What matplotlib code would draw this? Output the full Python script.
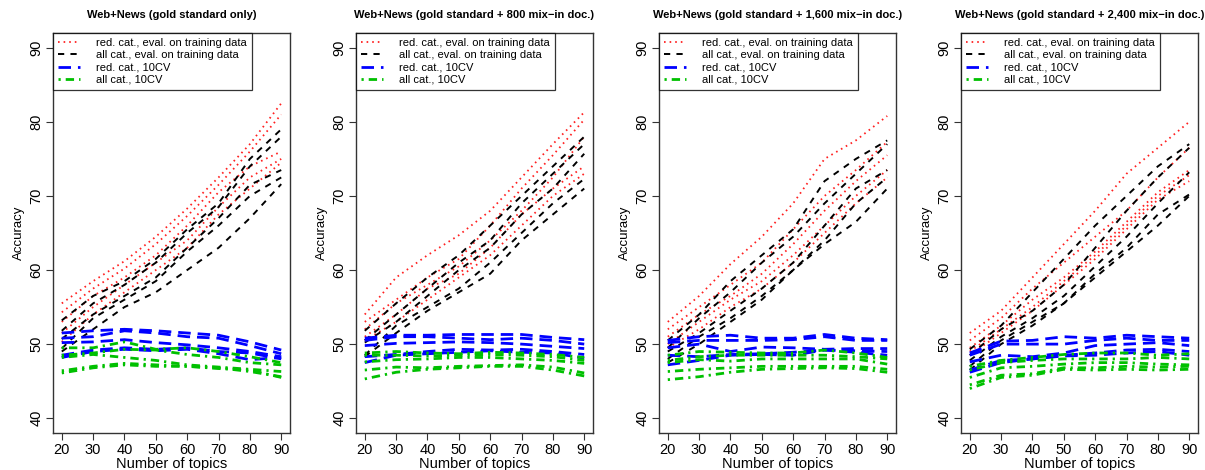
import matplotlib
matplotlib.use("Agg")
import matplotlib.pyplot as plt
from matplotlib.lines import Line2D

plt.rcParams['font.family'] = ['Liberation Sans', 'DejaVu Sans']

topics = [20, 30, 40, 50, 60, 70, 80, 90]

titles = [
    "Web+News (gold standard only)",
    "Web+News (gold standard + 800 mix\u2212in doc.)",
    "Web+News (gold standard + 1,600 mix\u2212in doc.)",
    "Web+News (gold standard + 2,400 mix\u2212in doc.)",
]

series_labels = [
    "red. cat., eval. on training data",
    "all cat., eval. on training data",
    "red. cat., 10CV",
    "all cat., 10CV",
]

# Panel 1: gold standard only
p1_red_train = [
    [55.5, 58.5, 61.2, 64.5, 68.3, 72.5, 77.0, 82.5],
    [54.3, 57.5, 60.2, 63.5, 67.3, 71.5, 76.0, 81.0],
    [53.0, 56.5, 59.0, 62.0, 66.0, 70.5, 74.0, 76.0],
    [51.5, 55.0, 58.0, 61.0, 64.0, 68.5, 72.5, 75.0],
    [50.3, 54.0, 57.0, 60.0, 63.0, 67.5, 71.0, 74.5],
]
p1_all_train = [
    [53.2, 56.5, 58.5, 61.5, 65.5, 69.0, 75.0, 79.0],
    [51.8, 55.5, 58.0, 61.0, 65.0, 68.5, 74.0, 78.0],
    [50.7, 54.0, 56.5, 59.0, 63.0, 67.0, 71.5, 73.5],
    [49.4, 53.5, 56.0, 58.5, 62.5, 66.0, 70.0, 72.5],
    [49.0, 52.0, 55.0, 57.0, 60.0, 63.0, 67.0, 71.6],
]
p1_red_cv = [
    [51.5, 51.8, 52.0, 51.8, 51.5, 51.2, 50.3, 49.2],
    [50.8, 51.0, 51.8, 51.5, 51.0, 50.8, 49.8, 48.7],
    [50.2, 50.3, 50.6, 50.2, 49.9, 49.5, 49.0, 48.3],
    [48.5, 49.2, 49.5, 49.3, 49.5, 49.0, 48.8, 48.0],
    [48.2, 49.0, 49.3, 49.1, 49.3, 48.7, 47.9, 48.2],
]
p1_all_cv = [
    [49.5, 49.5, 50.3, 49.3, 49.5, 49.0, 48.3, 47.5],
    [48.5, 48.8, 49.3, 49.2, 48.6, 48.2, 47.5, 47.2],
    [48.2, 48.6, 48.2, 47.8, 47.2, 46.9, 46.6, 46.3],
    [46.4, 47.0, 47.4, 47.2, 47.0, 46.8, 46.3, 45.6],
    [46.1, 46.8, 47.2, 47.0, 47.0, 46.7, 46.5, 45.5],
]

# Panel 2: + 800 mix-in docs
p2_red_train = [
    [54.0, 59.0, 62.0, 64.7, 68.0, 72.5, 77.0, 81.3],
    [53.0, 56.0, 59.0, 61.5, 66.0, 71.0, 75.5, 80.3],
    [52.0, 55.5, 58.0, 60.5, 64.0, 68.0, 72.5, 78.0],
    [51.0, 54.0, 57.5, 59.5, 63.0, 67.5, 71.0, 74.0],
    [50.5, 53.0, 56.0, 59.0, 62.0, 66.0, 70.0, 73.0],
]
p2_all_train = [
    [51.8, 55.5, 59.0, 62.0, 66.0, 70.0, 74.0, 78.0],
    [50.5, 54.0, 57.5, 61.0, 64.0, 69.0, 73.0, 77.0],
    [50.2, 53.0, 56.5, 60.0, 63.0, 67.5, 71.0, 75.7],
    [48.5, 52.5, 55.0, 57.5, 61.0, 65.0, 69.0, 72.3],
    [48.3, 51.5, 54.5, 57.0, 59.5, 64.0, 67.5, 71.0],
]
p2_red_cv = [
    [50.8, 51.2, 51.2, 51.3, 51.3, 51.3, 50.9, 50.6],
    [50.5, 51.0, 51.0, 50.8, 50.6, 50.8, 50.5, 50.0],
    [49.8, 50.1, 50.2, 50.3, 50.2, 50.0, 49.7, 49.4],
    [48.3, 48.6, 49.0, 49.3, 49.2, 49.3, 49.0, 48.6],
    [47.5, 48.5, 48.7, 48.9, 49.1, 48.9, 48.8, 48.1],
]
p2_all_cv = [
    [48.8, 49.0, 48.8, 48.7, 48.9, 48.8, 48.6, 48.2],
    [48.5, 48.5, 48.4, 48.5, 48.6, 48.5, 48.3, 47.8],
    [47.6, 47.9, 48.0, 48.2, 48.2, 48.0, 47.8, 47.4],
    [46.5, 46.9, 46.8, 47.0, 47.1, 47.2, 46.9, 46.1],
    [45.3, 46.2, 46.6, 46.8, 47.0, 47.0, 46.5, 45.7],
]

# Panel 3: + 1,600 mix-in docs
p3_red_train = [
    [53.0, 56.5, 60.8, 64.5, 69.0, 75.0, 77.5, 80.8],
    [52.0, 55.0, 58.0, 61.0, 65.5, 70.0, 73.5, 77.3],
    [51.0, 54.0, 56.5, 59.5, 63.5, 68.0, 72.0, 75.5],
    [50.0, 53.0, 56.0, 58.5, 62.0, 66.0, 70.0, 73.5],
    [49.5, 52.0, 55.0, 57.5, 61.0, 65.0, 69.0, 72.5],
]
p3_all_train = [
    [50.5, 54.0, 58.5, 62.0, 65.5, 72.0, 75.0, 77.5],
    [49.5, 53.5, 57.0, 61.0, 64.5, 69.0, 73.0, 77.0],
    [49.0, 51.5, 54.5, 57.5, 61.0, 66.0, 71.0, 73.5],
    [48.0, 51.0, 53.5, 56.5, 60.0, 64.0, 69.0, 72.5],
    [47.5, 50.0, 53.0, 56.0, 60.0, 63.5, 66.5, 71.0],
]
p3_red_cv = [
    [50.5, 51.0, 51.2, 50.8, 50.8, 51.3, 50.8, 50.6],
    [50.2, 50.5, 50.5, 50.5, 50.6, 51.0, 50.5, 50.5],
    [49.5, 50.0, 49.0, 49.6, 49.5, 49.3, 49.4, 49.4],
    [48.5, 48.3, 48.6, 48.7, 48.9, 49.2, 49.1, 49.0],
    [47.2, 47.8, 48.5, 48.6, 48.5, 49.2, 48.9, 48.5],
]
p3_all_cv = [
    [48.5, 49.0, 48.9, 48.8, 48.8, 49.2, 48.8, 48.2],
    [47.8, 48.3, 48.5, 48.5, 48.5, 48.5, 48.3, 48.0],
    [47.5, 47.9, 47.7, 48.0, 48.0, 48.0, 48.0, 47.3],
    [46.3, 46.6, 46.8, 47.0, 47.0, 47.0, 47.0, 46.6],
    [45.2, 45.6, 46.2, 46.6, 46.7, 46.8, 46.7, 46.2],
]

# Panel 4: + 2,400 mix-in docs
p4_red_train = [
    [51.5, 54.5, 59.0, 63.5, 68.0, 73.0, 76.5, 80.0],
    [50.5, 53.5, 57.5, 61.0, 64.5, 68.0, 72.5, 76.5],
    [49.5, 52.5, 56.0, 59.0, 62.5, 66.5, 70.5, 73.5],
    [49.0, 52.0, 55.0, 58.5, 62.0, 66.0, 70.0, 72.8],
    [48.5, 51.5, 54.5, 58.0, 61.5, 65.5, 69.5, 72.0],
]
p4_all_train = [
    [49.3, 52.5, 57.0, 61.5, 66.0, 70.0, 74.0, 77.0],
    [48.5, 52.0, 54.5, 58.0, 63.0, 68.0, 72.5, 76.5],
    [47.8, 51.0, 53.5, 56.5, 60.5, 64.5, 69.0, 73.2],
    [47.0, 50.5, 53.0, 55.5, 59.5, 63.0, 67.5, 70.2],
    [46.5, 50.0, 52.5, 55.5, 59.0, 62.5, 66.0, 70.0],
]
p4_red_cv = [
    [48.8, 50.4, 50.5, 51.0, 50.8, 51.2, 51.0, 50.8],
    [48.5, 50.0, 50.0, 50.0, 50.5, 50.8, 50.5, 50.5],
    [47.6, 48.5, 48.3, 48.8, 49.8, 50.0, 50.2, 49.8],
    [46.5, 47.8, 48.0, 48.5, 48.8, 49.2, 49.3, 49.0],
    [46.2, 47.5, 48.0, 48.4, 48.5, 48.8, 49.0, 48.5],
]
p4_all_cv = [
    [47.0, 47.8, 48.2, 48.6, 48.8, 48.8, 48.5, 48.7],
    [46.5, 47.5, 47.8, 48.0, 48.0, 48.0, 48.2, 48.0],
    [45.5, 46.8, 47.0, 47.3, 47.5, 47.5, 47.3, 47.2],
    [44.5, 45.8, 46.0, 46.8, 46.8, 47.0, 46.9, 47.0],
    [44.0, 45.5, 45.8, 46.6, 46.5, 46.6, 46.5, 46.6],
]

panels = [
    (p1_red_train, p1_all_train, p1_red_cv, p1_all_cv),
    (p2_red_train, p2_all_train, p2_red_cv, p2_all_cv),
    (p3_red_train, p3_all_train, p3_red_cv, p3_all_cv),
    (p4_red_train, p4_all_train, p4_red_cv, p4_all_cv),
]

styles = [
    dict(color="#FF2020", lw=1.3, dashes=(0.9, 2.2)),
    dict(color="black", lw=1.4, dashes=(3.2, 3.2)),
    dict(color="#0000FF", lw=2.0, dashes=(4.5, 2.5)),
    dict(color="#00C000", lw=2.0, dashes=(0.8, 1.8, 3.0, 1.8)),
]

W, H = 1205, 470
fig = plt.figure(figsize=(W / 100, H / 100), dpi=100)
lefts = [53, 356, 659, 961]
aw, ab, ah = 237, 37, 400

for i, (left, data) in enumerate(zip(lefts, panels)):
    ax = fig.add_axes([left / W, ab / H, aw / W, ah / H])
    for series, st in zip(data, styles):
        for run in series:
            ax.plot(topics, run, color=st["color"], lw=st["lw"],
                    dashes=st["dashes"], dash_capstyle="butt")
    ax.set_xlim(17.2, 92.8)
    ax.set_ylim(38, 92)
    ax.set_xticks(topics)
    ax.set_yticks([40, 50, 60, 70, 80, 90])
    ax.tick_params(direction="out", length=5, width=0.8, labelsize=10.5,
                   color="#333333", pad=2)
    for lab in ax.get_yticklabels():
        lab.set_rotation(90)
        lab.set_va("center")
    for sp in ax.spines.values():
        sp.set_linewidth(1.0)
        sp.set_color("#333333")
    ax.set_title(titles[i], fontsize=8, fontweight="bold", pad=11)
    ax.set_xlabel("Number of topics", fontsize=10.5, labelpad=0)
    ax.set_ylabel("Accuracy", fontsize=9.5, labelpad=3)
    handles = [Line2D([0], [0], color=st["color"], lw=st["lw"],
                      dashes=st["dashes"], dash_capstyle="butt") for st in styles]
    leg = ax.legend(handles, series_labels, loc="upper left", fontsize=8,
                    frameon=True, fancybox=False, borderaxespad=0,
                    handlelength=2.0, handletextpad=1.4, labelspacing=0.2,
                    borderpad=0.45)
    leg.get_frame().set_edgecolor("black")
    leg.get_frame().set_linewidth(0.9)

fig.savefig("out.png", dpi=100)
